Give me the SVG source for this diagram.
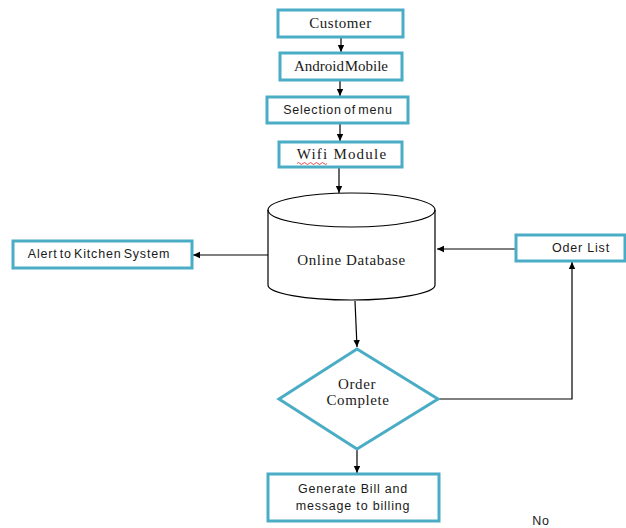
<svg xmlns="http://www.w3.org/2000/svg" width="626" height="528" viewBox="0 0 626 528">
<defs>
<style>
.box{fill:#fff;stroke:#4bacc6;stroke-width:3}
.serif{font-family:"Liberation Serif","Times New Roman",serif;font-size:15px;fill:#1a1a1a;text-anchor:middle}
.sans{font-family:"Liberation Sans",Arial,sans-serif;font-size:12.5px;letter-spacing:0.8px;fill:#1a1a1a;text-anchor:middle}
.line{fill:none;stroke:#000;stroke-width:1.2}
.cyl{fill:#fff;stroke:#000;stroke-width:1.2}
</style>
<marker id="arr" markerWidth="8" markerHeight="8" refX="7" refY="4" orient="auto" markerUnits="userSpaceOnUse">
<path d="M0,0.8 L7,4 L0,7.2 z" fill="#000"/>
</marker>
</defs>
<rect width="626" height="528" fill="#fff"/>
<g id="connectors">
<line class="line" x1="341" y1="37" x2="341" y2="52" marker-end="url(#arr)"/>
<line class="line" x1="340" y1="80" x2="340" y2="96" marker-end="url(#arr)"/>
<line class="line" x1="340" y1="123" x2="340" y2="141" marker-end="url(#arr)"/>
<line class="line" x1="339" y1="167" x2="339" y2="193" marker-end="url(#arr)"/>
<line class="line" x1="268" y1="255" x2="193" y2="255" marker-end="url(#arr)"/>
<line class="line" x1="516" y1="249" x2="437" y2="249" marker-end="url(#arr)"/>
<line class="line" x1="355" y1="301" x2="357" y2="347" marker-end="url(#arr)"/>
<polyline class="line" points="438,399 572,399 572,262" marker-end="url(#arr)"/>
<line class="line" x1="357" y1="449" x2="357" y2="473" marker-end="url(#arr)"/>
</g>
<g id="customer">
<rect class="box" x="278" y="10" width="125" height="27"/>
<text class="serif" x="340.5" y="28" letter-spacing="0.5">Customer</text>
</g>
<g id="android">
<rect class="box" x="280" y="53" width="122" height="27"/>
<text class="serif" x="341" y="71" font-size="14" word-spacing="-3">Android Mobile</text>
</g>
<g id="selection">
<rect class="box" x="267" y="97" width="141" height="26"/>
<text class="sans" x="338" y="114" word-spacing="-2">Selection of menu</text>
</g>
<g id="wifi">
<rect class="box" x="279" y="142" width="123" height="25"/>
<text class="serif" x="342" y="159" letter-spacing="1.2">Wifi Module</text>
<path d="M297,163.5 q1.5,-2 3,0 t3,0 t3,0 t3,0 t3,0 t3,0 t3,0 t3,0 t3,0 t3,0" fill="none" stroke="#e02020" stroke-width="0.8"/>
</g>
<g id="database">
<path class="cyl" d="M268,210 A83.5,17 0 0 1 435,210 L435,285 A83.5,15 0 0 1 268,285 Z"/>
<path class="line" d="M268,210 A83.5,17 0 0 0 435,210"/>
<text class="serif" x="351.5" y="265" letter-spacing="0.6">Online Database</text>
</g>
<g id="alert">
<rect class="box" x="13" y="241" width="179" height="27"/>
<text class="sans" x="99" y="258" word-spacing="-2">Alert to Kitchen System</text>
</g>
<g id="oderlist">
<rect class="box" x="516" y="235" width="109" height="26"/>
<text class="sans" x="581" y="252">Oder List</text>
</g>
<g id="order-complete">
<polygon points="357,349 438,399 357,449 279,399" fill="#fff" stroke="#4bacc6" stroke-width="3"/>
<text class="serif" x="357" y="389" font-size="16" letter-spacing="0.6">Order</text>
<text class="serif" x="358" y="405" font-size="16" letter-spacing="0.6">Complete</text>
</g>
<g id="generate-bill">
<rect class="box" x="268" y="474" width="171" height="47"/>
<text class="sans" x="353" y="493">Generate Bill and</text>
<text class="sans" x="353" y="510">message to billing</text>
</g>
<text class="sans" x="541" y="525" font-size="11.5">No</text>
</svg>
